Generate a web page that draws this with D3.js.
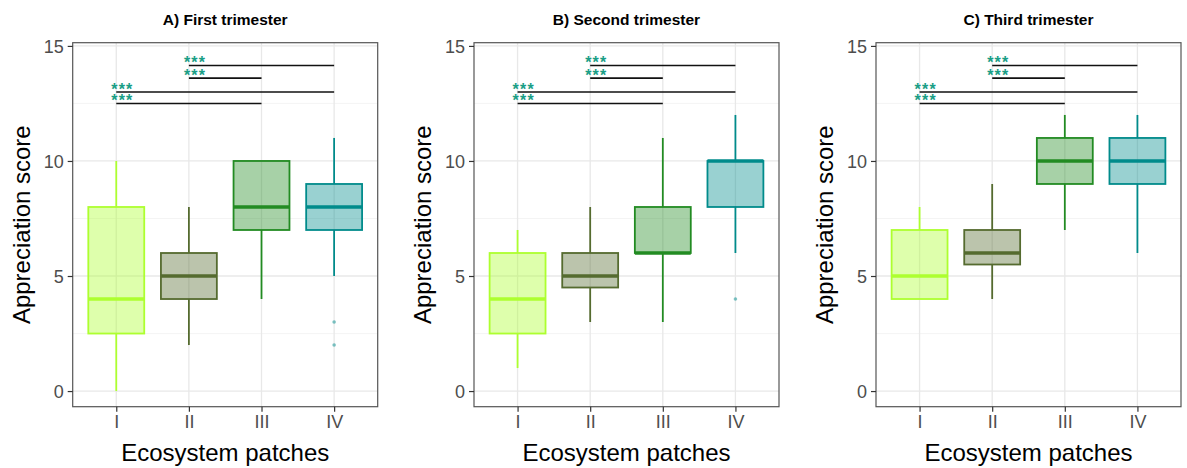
<!DOCTYPE html>
<meta charset="utf-8">
<style>
    body { margin: 0; background: #fff; }
    text { font-family: "Liberation Sans", Arial, sans-serif; }
    .tick-label { fill: #4d4d4d; font-size: 18px; }
    .axis-title { fill: #000; font-size: 24px; }
    .panel-title { fill: #000; font-size: 15.5px; font-weight: bold; }
    .stars { fill: #1a9e86; font-size: 16px; font-weight: bold; letter-spacing: 1.2px; }
</style>
<svg width="1187" height="468"></svg>
<script src="https://d3js.org/d3.v7.min.js"></script>
<script>

    // data
    var patches = ["I", "II", "III", "IV"];
    var panelTitles = ["A) First trimester", "B) Second trimester", "C) Third trimester"];
    var whiskerLow  = [[0, 2, 4, 5], [1, 3, 3, 6], [4, 4, 7, 6]];
    var q1          = [[2.5, 4, 7, 7], [2.5, 4.5, 6, 8], [4, 5.5, 9, 9]];
    var medians     = [[4, 5, 8, 8], [4, 5, 6, 10], [5, 6, 10, 10]];
    var q3          = [[8, 6, 10, 9], [6, 6, 8, 10], [7, 7, 11, 11]];
    var whiskerHigh = [[10, 8, 10, 11], [7, 8, 11, 12], [8, 9, 12, 12]];
    var outliers    = [[[], [], [], [3, 2]], [[], [], [], [4]], [[], [], [], []]];
    var compFrom  = ["I", "I", "II", "II"];
    var compTo    = ["III", "IV", "III", "IV"];
    var compY     = [12.5, 13.0, 13.6, 14.15];
    var compLabel = ["***", "***", "***", "***"];
    var yTicks = [0, 5, 10, 15];
    var yMinor = [2.5, 7.5, 12.5];

    var colors = ["#adff2f", "#556b2f", "#228b22", "#008b8b"];

    var svg = d3.select("svg"),
        panelLefts = [72.7, 474, 876],
        plotW = 305,
        plotTop = 42.7,
        plotBottom = 406.7;

    var y = d3.scaleLinear().domain([-0.68, 15.14]).range([plotBottom, plotTop]);

    panelLefts.forEach(function(left, p) {
        var g = svg.append("g").attr("transform", "translate(" + left + ",0)");

        var x = d3.scalePoint().domain(patches).range([0, plotW]).padding(0.6);
        var boxW = x.step() * 0.77;

        // grid
        g.selectAll(".minor").data(yMinor).enter().append("line")
            .attr("x1", 0).attr("x2", plotW)
            .attr("y1", d => y(d)).attr("y2", d => y(d))
            .attr("stroke", "#f3f3f3").attr("stroke-width", 0.9);
        g.selectAll(".majorY").data(yTicks).enter().append("line")
            .attr("x1", 0).attr("x2", plotW)
            .attr("y1", d => y(d)).attr("y2", d => y(d))
            .attr("stroke", "#e8e8e8").attr("stroke-width", 1.3);
        g.selectAll(".majorX").data(patches).enter().append("line")
            .attr("x1", d => x(d)).attr("x2", d => x(d))
            .attr("y1", plotTop).attr("y2", plotBottom)
            .attr("stroke", "#e8e8e8").attr("stroke-width", 1.3);

        // boxes
        patches.forEach(function(c, i) {
            var cx = x(c), col = colors[i];
            g.append("line")
                .attr("x1", cx).attr("x2", cx)
                .attr("y1", y(whiskerLow[p][i])).attr("y2", y(q1[p][i]))
                .attr("stroke", col).attr("stroke-width", 1.8);
            g.append("line")
                .attr("x1", cx).attr("x2", cx)
                .attr("y1", y(q3[p][i])).attr("y2", y(whiskerHigh[p][i]))
                .attr("stroke", col).attr("stroke-width", 1.8);
            g.append("rect")
                .attr("x", cx - boxW / 2).attr("width", boxW)
                .attr("y", y(q3[p][i])).attr("height", y(q1[p][i]) - y(q3[p][i]))
                .attr("fill", col).attr("fill-opacity", 0.4)
                .attr("stroke", col).attr("stroke-width", 1.8);
            g.append("line")
                .attr("x1", cx - boxW / 2).attr("x2", cx + boxW / 2)
                .attr("y1", y(medians[p][i])).attr("y2", y(medians[p][i]))
                .attr("stroke", col).attr("stroke-width", 3.6);
            g.selectAll(null).data(outliers[p][i]).enter().append("circle")
                .attr("cx", cx).attr("cy", d => y(d)).attr("r", 1.8)
                .attr("fill", col).attr("fill-opacity", 0.5);
        });

        // significance brackets
        compY.forEach(function(v, k) {
            g.append("line")
                .attr("x1", x(compFrom[k])).attr("x2", x(compTo[k]))
                .attr("y1", y(v)).attr("y2", y(v))
                .attr("stroke", "#111").attr("stroke-width", 1.6);
            g.append("text").attr("class", "stars")
                .attr("x", x(compFrom[k]) - 5).attr("y", y(v) + 3)
                .text(compLabel[k]);
        });

        // border
        g.append("rect")
            .attr("x", 0).attr("y", plotTop).attr("width", plotW).attr("height", plotBottom - plotTop)
            .attr("fill", "none").attr("stroke", "#555").attr("stroke-width", 1.2);

        // axes
        var yAxis = g.append("g").call(d3.axisLeft(y).tickValues(yTicks).tickSize(5).tickPadding(4));
        var xAxis = g.append("g").attr("transform", "translate(0," + plotBottom + ")")
            .call(d3.axisBottom(x).tickSize(5).tickPadding(4));
        [yAxis, xAxis].forEach(function(a) {
            a.select(".domain").remove();
            a.selectAll(".tick line").attr("stroke", "#333").attr("stroke-width", 1.2);
            a.selectAll(".tick text").attr("class", "tick-label").attr("font-family", null).attr("font-size", null);
        });
        yAxis.selectAll(".tick text").attr("dy", "0.35em");

        // titles
        g.append("text").attr("class", "panel-title")
            .attr("x", plotW / 2).attr("y", 25).attr("text-anchor", "middle")
            .text(panelTitles[p]);
        g.append("text").attr("class", "axis-title")
            .attr("x", plotW / 2).attr("y", 461).attr("text-anchor", "middle")
            .text("Ecosystem patches");
        g.append("text").attr("class", "axis-title")
            .attr("transform", "translate(-43," + ((plotTop + plotBottom) / 2) + ") rotate(-90)")
            .attr("text-anchor", "middle")
            .text("Appreciation score");
    });

</script>
